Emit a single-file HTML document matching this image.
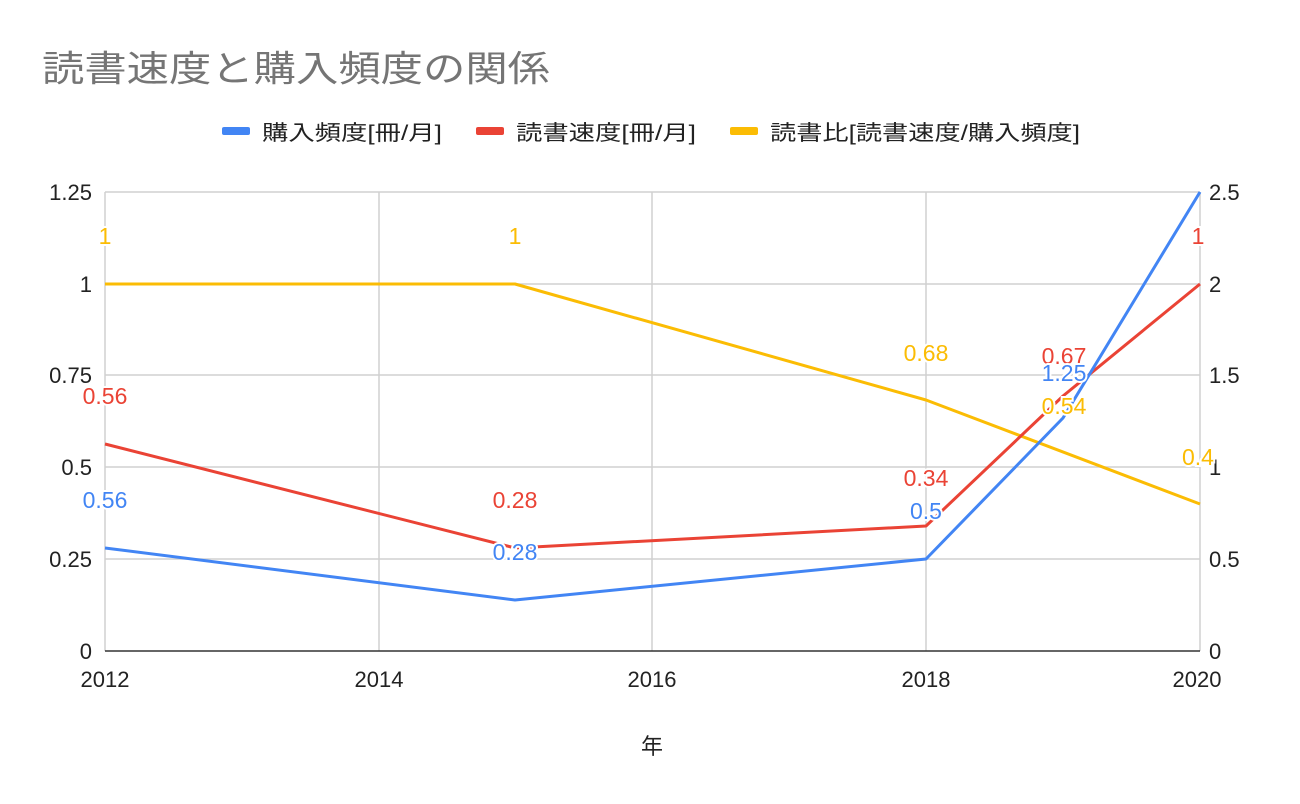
<!DOCTYPE html><html><head><meta charset="utf-8"><style>body{margin:0;background:#fff}svg{display:block;font-family:"Liberation Sans","Noto Sans CJK JP",sans-serif}</style></head><body>
<svg width="1300" height="804" xmlns="http://www.w3.org/2000/svg">
<text x="42" y="81" font-size="36" fill="#757575" textLength="508" lengthAdjust="spacingAndGlyphs">読書速度と購入頻度の関係</text>
<g font-size="21" fill="#222">
<rect x="222" y="127" width="28" height="8" rx="2" fill="#4285f4"/><text x="262" y="140" textLength="180" lengthAdjust="spacingAndGlyphs">購入頻度[冊/月]</text>
<rect x="476" y="127" width="28" height="8" rx="2" fill="#ea4335"/><text x="516" y="140" textLength="180" lengthAdjust="spacingAndGlyphs">読書速度[冊/月]</text>
<rect x="730" y="127" width="28" height="8" rx="2" fill="#fbbc04"/><text x="770" y="140" textLength="310" lengthAdjust="spacingAndGlyphs">読書比[読書速度/購入頻度]</text>
</g>
<g stroke="#d0d0d0" stroke-width="1.5">
<line x1="105" y1="192" x2="1200" y2="192"/><line x1="105" y1="284" x2="1200" y2="284"/><line x1="105" y1="375" x2="1200" y2="375"/><line x1="105" y1="467" x2="1200" y2="467"/><line x1="105" y1="559" x2="1200" y2="559"/>
<line x1="105" y1="192" x2="105" y2="651"/><line x1="379" y1="192" x2="379" y2="651"/><line x1="652" y1="192" x2="652" y2="651"/><line x1="926" y1="192" x2="926" y2="651"/><line x1="1200" y1="192" x2="1200" y2="651"/>
</g>
<line x1="105" y1="651" x2="1200" y2="651" stroke="#333" stroke-width="1.5"/>
<g font-size="22" fill="#222" text-anchor="end">
<text x="92" y="200">1.25</text><text x="92" y="292">1</text><text x="92" y="383">0.75</text><text x="92" y="475">0.5</text><text x="92" y="567">0.25</text><text x="92" y="659">0</text>
</g>
<g font-size="22" fill="#222">
<text x="1209" y="200">2.5</text><text x="1209" y="292">2</text><text x="1209" y="383">1.5</text><text x="1209" y="475">1</text><text x="1209" y="567">0.5</text><text x="1209" y="659">0</text>
</g>
<g font-size="22" fill="#222" text-anchor="middle">
<text x="105" y="687">2012</text><text x="379" y="687">2014</text><text x="652" y="687">2016</text><text x="926" y="687">2018</text><text x="1197" y="687">2020</text>
<text x="652" y="754">年</text>
</g>
<g fill="none" stroke-width="3" stroke-linejoin="round">
<polyline stroke="#fbbc04" points="105,284 515,284 926,400 1200,504"/>
<polyline stroke="#ea4335" points="105,444 515,548 926,526 1063,396 1200,284"/>
<polyline stroke="#4285f4" points="105,548 515,600 926,559 1063,418 1200,192"/>
</g>
<g font-size="23" text-anchor="middle" stroke="#fff" stroke-width="4" paint-order="stroke">
<text x="105" y="244" fill="#fbbc04">1</text><text x="515" y="244" fill="#fbbc04">1</text><text x="926" y="361" fill="#fbbc04">0.68</text><text x="1064" y="414" fill="#fbbc04">0.54</text><text x="1198" y="465" fill="#fbbc04">0.4</text>
<text x="105" y="404" fill="#ea4335">0.56</text><text x="515" y="508" fill="#ea4335">0.28</text><text x="926" y="486" fill="#ea4335">0.34</text><text x="1064" y="364" fill="#ea4335">0.67</text><text x="1198" y="244" fill="#ea4335">1</text>
<text x="1064" y="381" fill="#4285f4">1.25</text>
<text x="105" y="508" fill="#4285f4">0.56</text><text x="515" y="560" fill="#4285f4">0.28</text><text x="926" y="519" fill="#4285f4">0.5</text>
</g>
</svg></body></html>
